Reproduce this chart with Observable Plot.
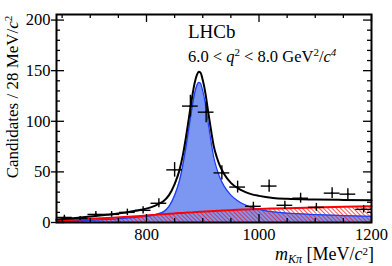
<!DOCTYPE html>
<html><head><meta charset="utf-8">
<script src="https://cdn.jsdelivr.net/npm/d3@7"></script>
<script src="https://cdn.jsdelivr.net/npm/@observablehq/plot@0.6"></script>
<style>
html,body{margin:0;padding:0;background:#fff;}
#chart{width:392px;height:266px;overflow:hidden;}
#chart svg text{font-family:'Liberation Serif','Times New Roman',serif !important;}
</style></head><body><div id="chart"></div>
<script>
// ---- data ----
const binCenters = [654, 682, 710, 738, 766, 794, 822, 850, 878, 906, 934, 962, 990, 1018, 1046, 1074, 1102, 1130, 1158, 1186];
const counts     = [5, 4, 8, 8, 10, 12, 19, 52, 115, 109, 49, 35, 16, 36, 17, 24, 15, 29, 28, 13];
const countErrors = [2.2, 2.0, 2.8, 2.8, 3.2, 3.5, 4.4, 7.2, 10.7, 10.4, 7.0, 5.9, 4.0, 6.0, 4.1, 4.9, 3.9, 5.4, 5.3, 3.6];
const binHalfWidth = 14;

const curveMass       = [640, 670, 700, 730, 760, 790, 810, 820, 830, 840, 850, 858, 865, 870, 875, 880, 885, 890, 893, 896, 900, 905, 910, 915, 920, 925, 930, 938, 950, 962, 975, 986, 1000, 1025, 1050, 1100, 1150, 1200];
const signalCurve     = [1.0, 1.5, 2.2, 3.0, 4.0, 5.5, 7.0, 8.5, 10.5, 16, 27, 40, 58, 74, 92, 110, 126, 136, 138.5, 137.5, 130, 116, 97, 79, 63, 53, 45, 36, 27, 21.5, 17.5, 15, 13, 10.5, 9.2, 7.8, 6.8, 6.0];
const backgroundCurve = [2.0, 2.8, 3.6, 4.5, 5.4, 6.5, 7.3, 7.8, 8.2, 8.6, 9.0, 9.3, 9.5, 9.7, 9.9, 10.0, 10.2, 10.4, 10.5, 10.6, 10.7, 10.9, 11.0, 11.2, 11.3, 11.5, 11.6, 11.9, 12.2, 12.5, 12.8, 13.0, 13.3, 13.8, 14.2, 14.9, 15.5, 16.0];
const totalCurve      = [3.0, 4.3, 5.9, 7.6, 9.6, 12.5, 15.5, 18.0, 21.0, 27.0, 38.0, 50.5, 67.5, 83.7, 101.9, 120.0, 136.2, 146.4, 149.0, 148.1, 140.7, 126.9, 108.0, 90.2, 74.3, 64.5, 56.6, 47.9, 39.2, 34.0, 30.3, 28.0, 26.3, 24.3, 23.4, 22.7, 22.3, 22.0];

const xTickValues = [800, 1000, 1200];
const xMinorTicks = [650, 700, 750, 850, 900, 950, 1050, 1100, 1150];
const yTickValues = [0, 50, 100, 150, 200];
const yMinorTicks = [10, 20, 30, 40, 60, 70, 80, 90, 110, 120, 130, 140, 160, 170, 180, 190];

// ---- tables ----
const points = binCenters.map((m, i) => ({m, n: counts[i], e: countErrors[i]}));
const curves = curveMass.map((m, i) => ({m, s: signalCurve[i], b: backgroundCurve[i], t: totalCurve[i]}));

const W = 392, H = 266, ML = 56, MR = 21, MT = 14, MB = 44;
const innerW = W - ML - MR, innerH = H - MT - MB;
const serif = "'Liberation Serif', 'Times New Roman', serif";

const plot = Plot.plot({
  width: W, height: H,
  marginLeft: ML, marginRight: MR, marginTop: MT, marginBottom: MB,
  style: {fontFamily: serif, fontSize: "16.5px", background: "white", color: "black", overflow: "visible"},
  x: {domain: [640, 1200]},
  y: {domain: [0, 205.5]},
  marks: [
    Plot.areaY(curves, {x: "m", y: "s", fill: "#7b97f2", curve: "monotone-x"}),
    Plot.areaY(curves, {x: "m", y: "b", fill: "url(#redHatch)", curve: "monotone-x"}),
    Plot.lineY(curves, {x: "m", y: "s", stroke: "#1f3cff", strokeWidth: 1.3, curve: "monotone-x"}),
    Plot.lineY(curves, {x: "m", y: "b", stroke: "#ff0000", strokeWidth: 2, curve: "monotone-x"}),
    Plot.lineY(curves, {x: "m", y: "t", stroke: "black", strokeWidth: 2, curve: "monotone-x"}),
    Plot.ruleX(points, {x: "m", y1: d => d.n - d.e, y2: d => d.n + d.e, stroke: "black", strokeWidth: 1.4}),
    Plot.ruleY(points, {y: "n", x1: d => d.m - binHalfWidth, x2: d => d.m + binHalfWidth, stroke: "black", strokeWidth: 1.4}),
    Plot.dot(points, {x: "m", y: "n", r: 1.1, fill: "black"}),
    // ticks (ROOT style, inside on all four sides)
    Plot.tickY(yTickValues, {y: d => d, insetLeft: -5, insetRight: innerW - 8, stroke: "black", strokeWidth: 1.3}),
    Plot.tickY(yMinorTicks, {y: d => d, insetRight: innerW - 4, stroke: "black", strokeWidth: 1.3}),
    Plot.tickY(yTickValues, {y: d => d, insetLeft: innerW - 8, stroke: "black", strokeWidth: 1.3}),
    Plot.tickY(yMinorTicks, {y: d => d, insetLeft: innerW - 4, stroke: "black", strokeWidth: 1.3}),
    Plot.tickX(xTickValues, {x: d => d, insetTop: innerH - 8, stroke: "black", strokeWidth: 1.3}),
    Plot.tickX(xMinorTicks, {x: d => d, insetTop: innerH - 4, stroke: "black", strokeWidth: 1.3}),
    Plot.tickX(xTickValues, {x: d => d, insetBottom: innerH - 8, stroke: "black", strokeWidth: 1.3}),
    Plot.tickX(xMinorTicks, {x: d => d, insetBottom: innerH - 4, stroke: "black", strokeWidth: 1.3}),
    Plot.frame({stroke: "black", strokeWidth: 2}),
    Plot.axisX(xTickValues, {tickSize: 0, tickPadding: 6, label: null, fontSize: 16.5, fontFamily: serif, tickFormat: d => String(d)}),
    Plot.axisY(yTickValues, {tickSize: 0, tickPadding: 6, label: null, fontSize: 16.5, fontFamily: serif, tickFormat: d => String(d)})
  ]
});

document.getElementById("chart").appendChild(plot);
const svg = d3.select(plot);

// hatch pattern for background component
const defs = svg.insert("defs", ":first-child");
defs.append("pattern")
  .attr("id", "redHatch").attr("patternUnits", "userSpaceOnUse")
  .attr("width", 3).attr("height", 3).attr("patternTransform", "rotate(-45)")
  .append("line").attr("x1", 0).attr("y1", 0).attr("x2", 0).attr("y2", 3)
  .attr("stroke", "#ff0000").attr("stroke-width", 1.3);

// texts
const txt = svg.append("g").attr("font-family", serif).attr("fill", "black").attr("text-anchor", "start");

txt.append("text").attr("x", 188).attr("y", 38).attr("font-size", 19).attr("text-anchor", "start").text("LHCb");

const sel = txt.append("text").attr("x", 188).attr("y", 62).attr("font-size", 16.5).attr("text-anchor", "start");
sel.append("tspan").text("6.0 < ");
sel.append("tspan").attr("font-style", "italic").text("q");
sel.append("tspan").attr("font-size", 11).attr("dy", -6).text("2");
sel.append("tspan").attr("dy", 6).text(" < 8.0 GeV");
sel.append("tspan").attr("font-size", 11).attr("dy", -6).text("2");
sel.append("tspan").attr("dy", 6).text("/");
sel.append("tspan").attr("font-style", "italic").text("c");
sel.append("tspan").attr("font-size", 11).attr("dy", -6).attr("font-style", "italic").text("4");

const yt = txt.append("text").attr("transform", "translate(18,97) rotate(-90)")
  .attr("text-anchor", "middle").attr("font-size", 17);
yt.append("tspan").text("Candidates / 28 MeV/");
yt.append("tspan").attr("font-style", "italic").text("c");
yt.append("tspan").attr("font-size", 11).attr("dy", -6).text("2");

const xt = txt.append("text").attr("x", 374).attr("y", 260)
  .attr("text-anchor", "end").attr("font-size", 18);
xt.append("tspan").attr("font-style", "italic").text("m");
xt.append("tspan").attr("font-style", "italic").attr("font-size", 12).attr("dy", 3).text("K\u03C0");
xt.append("tspan").attr("dy", -3).text(" [MeV/");
xt.append("tspan").attr("font-style", "italic").text("c");
xt.append("tspan").attr("font-size", 11).attr("dy", -5).text("2");
xt.append("tspan").attr("dy", 5).text("]");
</script>
</body></html>
